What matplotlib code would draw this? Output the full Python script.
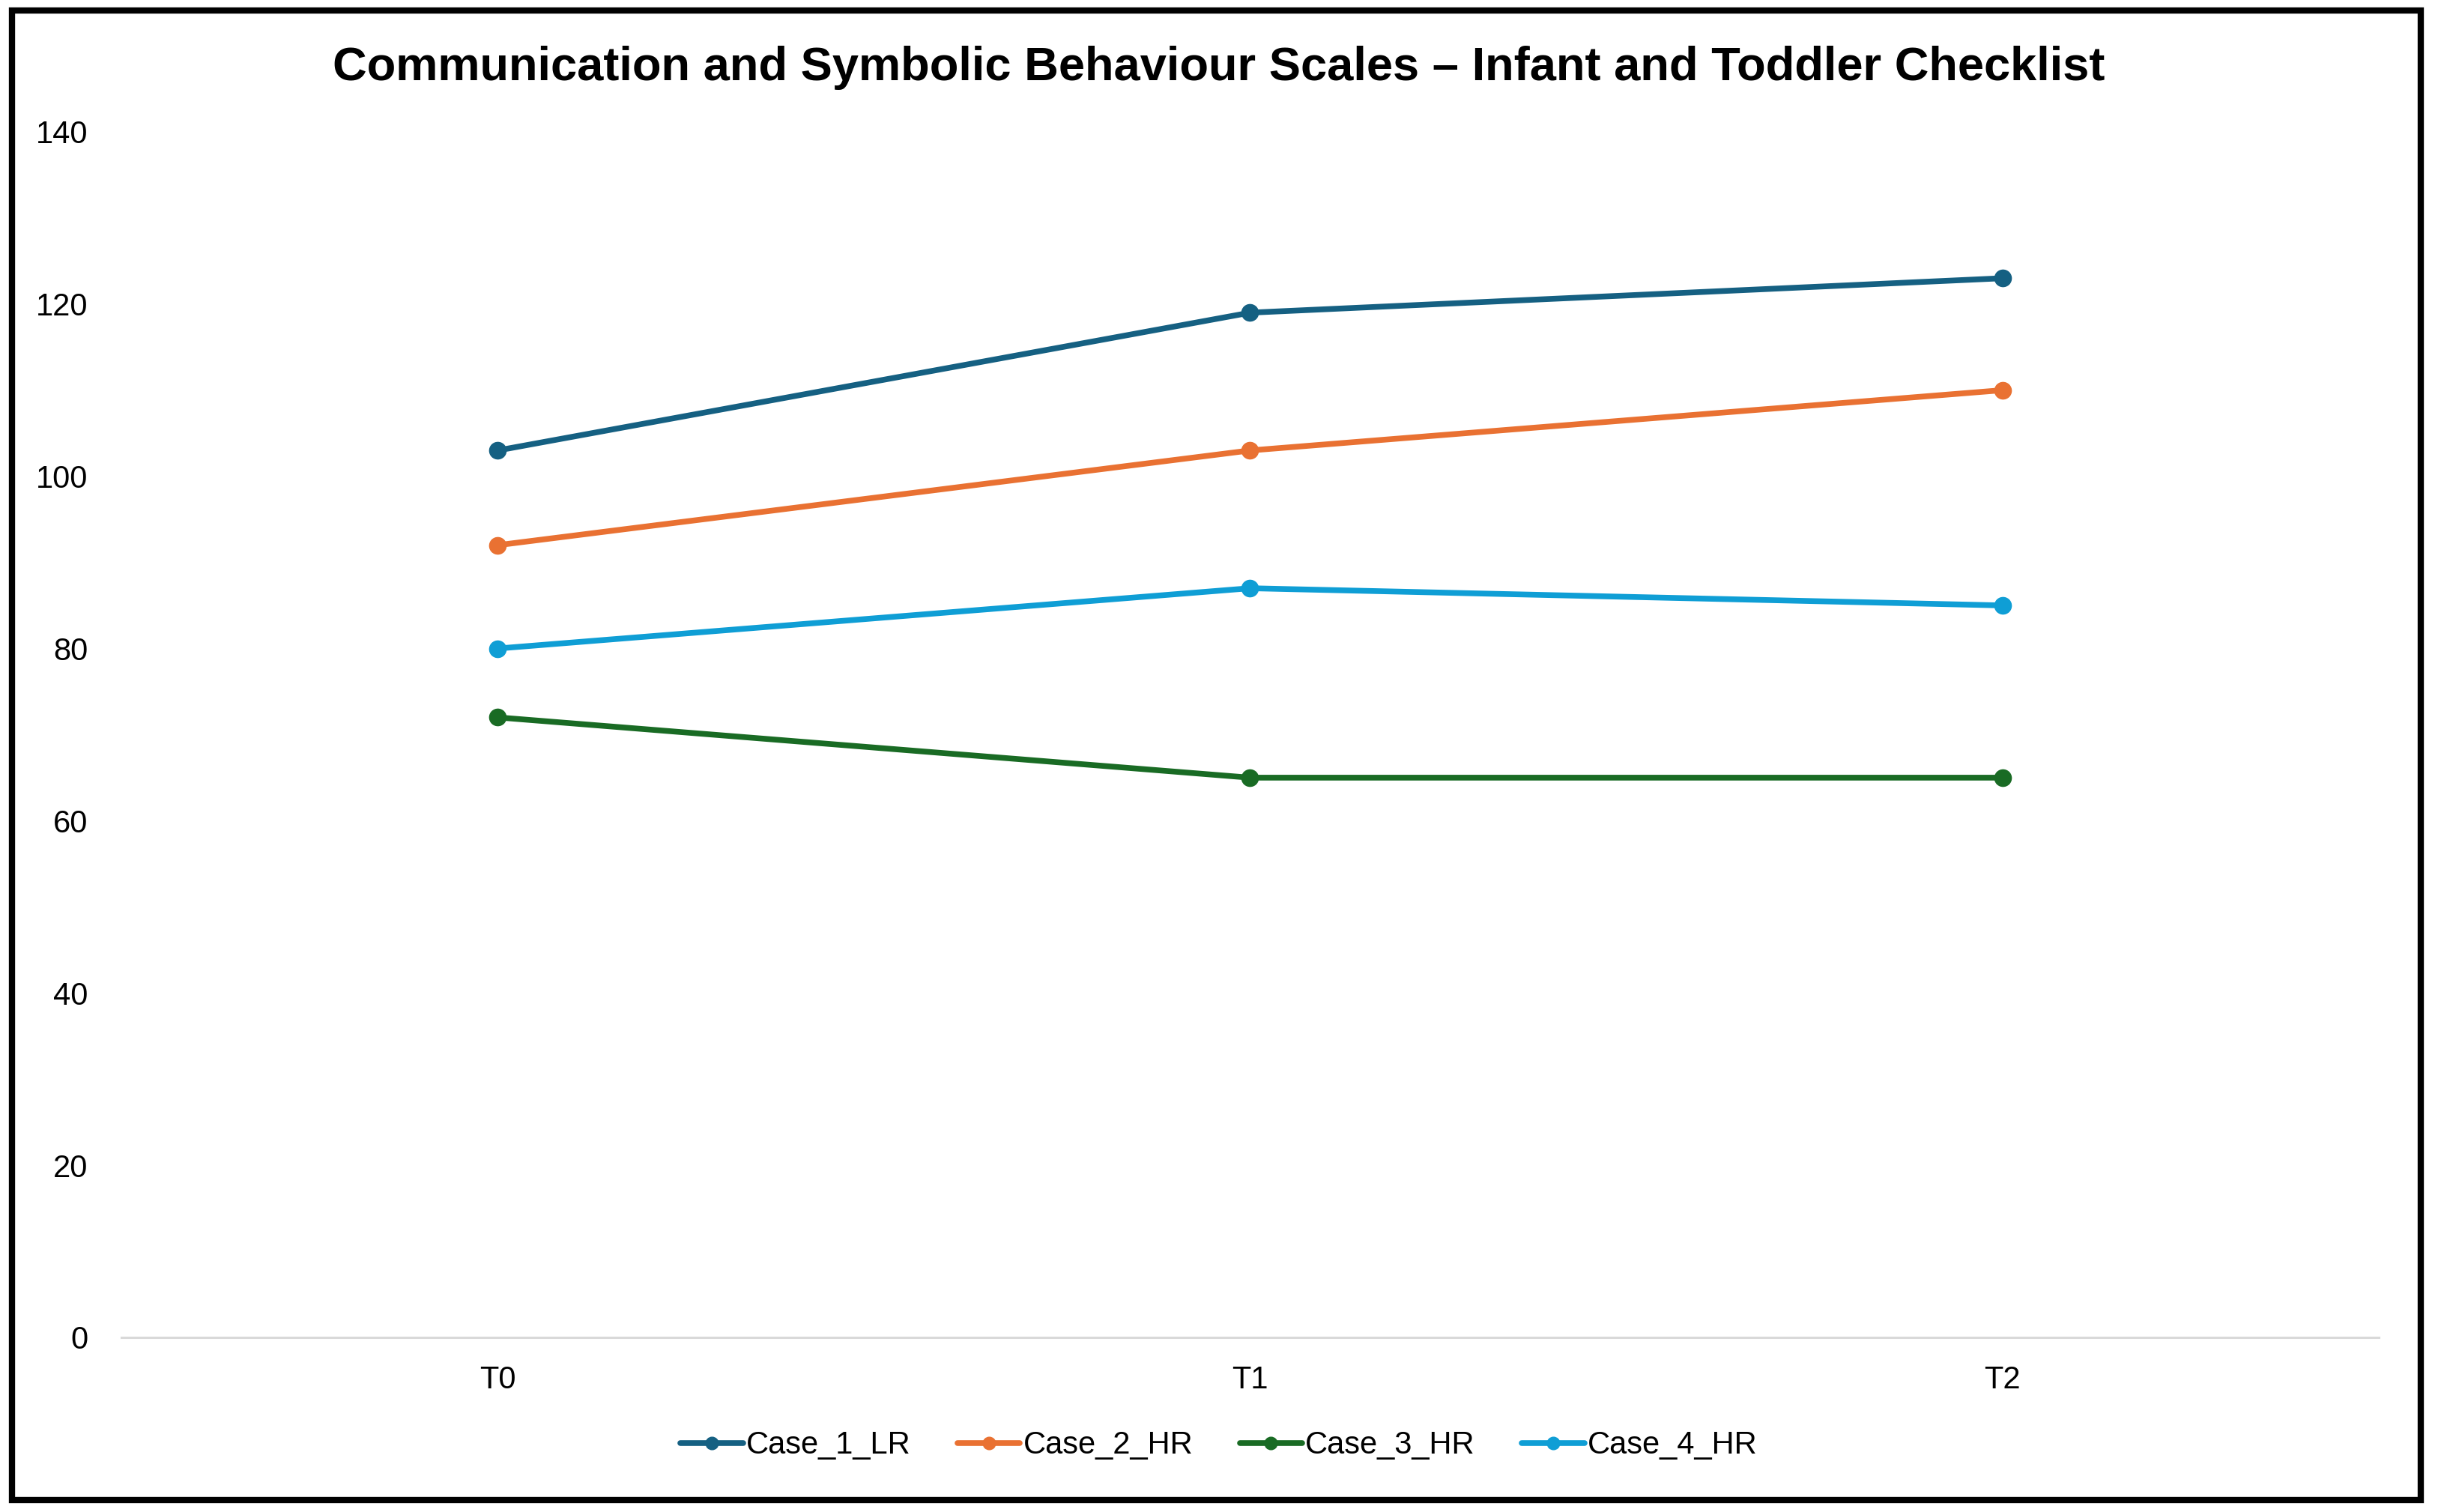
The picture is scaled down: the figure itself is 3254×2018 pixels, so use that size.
import matplotlib
matplotlib.use("Agg")
from matplotlib import pyplot as plt
from matplotlib.patches import Rectangle

# data
timepoints = ["T0", "T1", "T2"]
case_1_lr = [103, 119, 123]
case_2_hr = [92, 103, 110]
case_3_hr = [72, 65, 65]
case_4_hr = [80, 87, 85]
series_names = ["Case_1_LR", "Case_2_HR", "Case_3_HR", "Case_4_HR"]
y_ticks = [0, 20, 40, 60, 80, 100, 120, 140]

colors = ["#156082", "#E97132", "#196B24", "#0F9ED5"]

plt.rcParams['font.family'] = ['Liberation Sans', 'DejaVu Sans']

fig = plt.figure(figsize=(32.54, 20.18), dpi=100)
ax = fig.add_axes([0.0498, 0.1155, 0.9259, 0.7973])

x = list(range(len(timepoints)))
for values, name, color in zip([case_1_lr, case_2_hr, case_3_hr, case_4_hr], series_names, colors):
    ax.plot(x, values, color=color, linewidth=5.5, marker='o', markersize=16,
            label=name, solid_capstyle='round')

ax.set_xlim(-0.5, 2.5)
ax.set_ylim(0, 140)
ax.set_xticks(x)
ax.set_xticklabels(timepoints)
ax.set_yticks(y_ticks)
ax.tick_params(axis='both', length=0, labelsize=30, colors='#000000')
ax.tick_params(axis='y', pad=32)
ax.tick_params(axis='x', pad=27)

for side in ['top', 'right', 'left']:
    ax.spines[side].set_visible(False)
ax.spines['bottom'].set_color('#d9d9d9')
ax.spines['bottom'].set_linewidth(2.2)

fig.text(0.5, 0.955, "Communication and Symbolic Behaviour Scales \u2013 Infant and Toddler Checklist",
         ha='center', va='center', fontsize=45.5, fontweight='bold')

fig.legend(loc='center', bbox_to_anchor=(0.5, 0.044), ncol=4, frameon=False,
           fontsize=30, handlelength=2.0, handletextpad=0.1, columnspacing=1.5,
           markerscale=0.75)

fig.patches.append(Rectangle((0.005, 0.008), 0.988, 0.985, transform=fig.transFigure,
                             fill=False, edgecolor='black', linewidth=6))

fig.savefig("out.png", dpi=100, facecolor='white')
